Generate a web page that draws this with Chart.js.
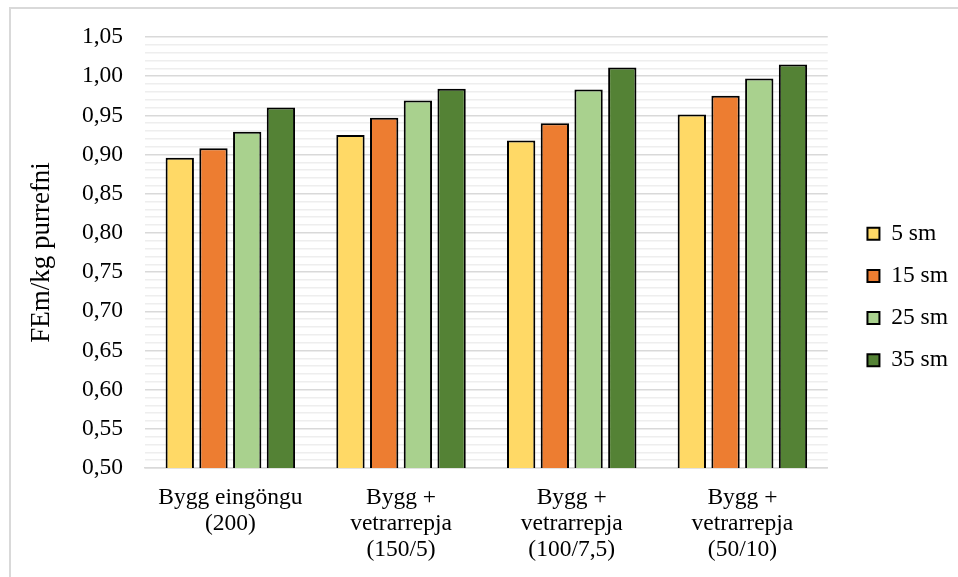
<!DOCTYPE html>
<html>
<head>
<meta charset="utf-8">
<script src="https://cdn.jsdelivr.net/npm/chart.js@4"></script>
<style>
  html, body { margin: 0; padding: 0; background: #fff; overflow: hidden; }
  #wrap { position: relative; width: 958px; height: 577px; }
  #frame { position: absolute; left: 9px; top: 7px; width: 2000px; height: 2000px;
           border-left: 2px solid #d9d9d9; border-top: 2px solid #d9d9d9; }
  canvas { position: absolute; left: 0; top: 0; }
</style>
</head>
<body>
<div id="wrap">
  <div id="frame"></div>
  <canvas id="c" width="958" height="577"></canvas>
</div>
<script>
const categories = [
  ["Bygg eingöngu", "(200)"],
  ["Bygg +", "vetrarrepja", "(150/5)"],
  ["Bygg +", "vetrarrepja", "(100/7,5)"],
  ["Bygg +", "vetrarrepja", "(50/10)"]
];
const seriesNames = ["5 sm", "15 sm", "25 sm", "35 sm"];
const sm5  = [0.896, 0.925, 0.918, 0.951];
const sm15 = [0.908, 0.947, 0.940, 0.975];
const sm25 = [0.929, 0.969, 0.983, 0.997];
const sm35 = [0.960, 0.984, 1.011, 1.015];
const yAxisTitle = "FEm/kg purrefni";
const yMin = 0.50, yMax = 1.05;

const colors = ["#FFD966", "#ED7D31", "#A9D18E", "#548235"];
const seriesValues = [sm5, sm15, sm25, sm35];
const FONT = "'Liberation Serif', 'Times New Roman', serif";

const datasets = seriesNames.map((n, i) => ({
  label: n,
  data: seriesValues[i],
  backgroundColor: colors[i],
  borderColor: "#000",
  borderWidth: 2,
  borderSkipped: false,
  categoryPercentage: 0.79,
  barPercentage: 0.84
}));

const isMajor = v => Math.round(v * 100) % 5 === 0;

// nudge the right-hand legend up so it sits where the reference has it
const legendShift = {
  id: "legendShift",
  afterLayout(chart) {
    const l = chart.legend;
    if (l) { l.top -= 10; l.bottom -= 10; }
  }
};

new Chart(document.getElementById("c"), {
  type: "bar",
  data: { labels: categories, datasets },
  plugins: [legendShift],
  options: {
    responsive: false,
    animation: false,
    layout: { padding: { top: 37, right: 0, bottom: 0, left: 0 } },
    plugins: {
      tooltip: { enabled: false },
      legend: {
        position: "right",
        labels: {
          boxWidth: 12, boxHeight: 12, padding: 18.7,
          color: "#000",
          font: { family: FONT, size: 23.5 }
        }
      }
    },
    scales: {
      x: {
        grid: { display: false, drawTicks: false },
        border: { display: true, color: "#d9d9d9", width: 1.5 },
        ticks: {
          color: "#000", font: { family: FONT, size: 23.5, lineHeight: 1.11 },
          maxRotation: 0, autoSkip: false, padding: 17
        },
        afterFit: s => { s.height = 109; }
      },
      y: {
        min: yMin, max: yMax,
        border: { display: false },
        grid: {
          drawTicks: false,
          color: ctx => isMajor(ctx.tick.value) ? "#d9d9d9" : "#eeeeee",
          lineWidth: 1.5
        },
        ticks: {
          stepSize: 0.01, autoSkip: false, padding: 22,
          color: "#000", font: { family: FONT, size: 23.5 },
          callback: v => isMajor(v) ? Number(v).toFixed(2).replace(".", ",") : ""
        },
        title: {
          display: true, text: yAxisTitle, color: "#000",
          font: { family: FONT, size: 27 },
          padding: { top: 26, bottom: 0 }
        },
        afterFit: s => { s.width = 145; }
      },
      gap: {
        type: "linear", position: "right", display: true,
        grid: { display: false }, border: { display: false },
        ticks: { display: false },
        afterFit: s => { s.width = 21; }
      }
    }
  }
});
</script>
</body>
</html>
